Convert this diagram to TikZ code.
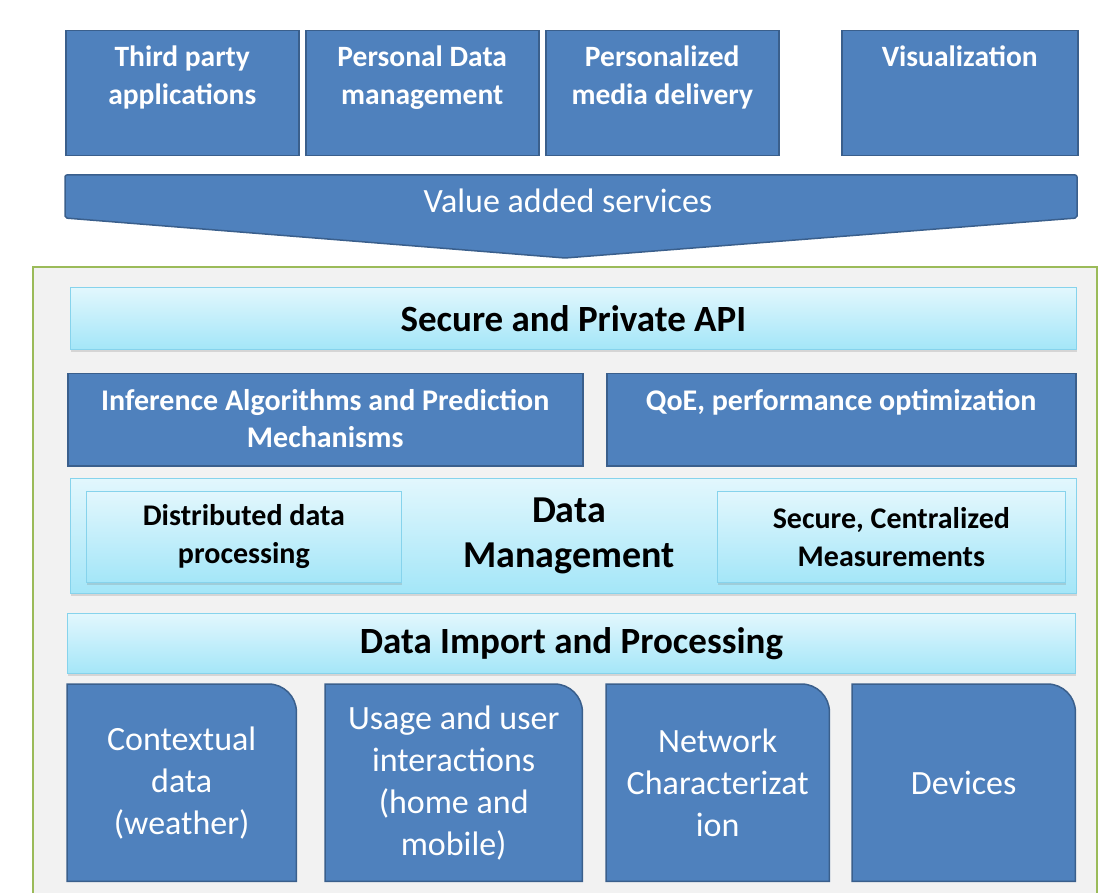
\documentclass[tikz,border=0pt]{standalone}
\usepackage{fontspec}
\setmainfont{Carlito}
\usepackage{tikz}
\usetikzlibrary{positioning,shadows,backgrounds}
\definecolor{boxblue}{HTML}{4F81BD}
\definecolor{boxedge}{HTML}{3A5F8C}
\definecolor{frameg}{HTML}{9BBB59}
\definecolor{framefill}{HTML}{F2F2F2}
\definecolor{cyantop}{HTML}{E2F7FD}
\definecolor{cyanbot}{HTML}{A4E6F8}
\definecolor{cyanedge}{HTML}{86D3EC}

\begin{document}
\begin{tikzpicture}[x=1pt, y=-1pt, node distance=5.5pt,
  bluebox/.style={draw=boxedge, line width=1.5pt, fill=boxblue, anchor=north west, inner sep=0pt},
  cyanbar/.style={draw=cyanedge, line width=0.8pt, top color=cyantop, bottom color=cyanbot,
    anchor=north west, inner sep=0pt, drop shadow={opacity=0.25, shadow xshift=1pt, shadow yshift=-3pt}},
  toptext/.style={text=white, inner sep=0pt, align=center, font=\bfseries\fontsize{29.5}{38}\selectfont},
  midtext/.style={text=white, inner sep=0pt, align=center, font=\bfseries\fontsize{30}{37}\selectfont},
  bartext/.style={text=black, inner sep=0pt, align=center, font=\bfseries\fontsize{37}{40}\selectfont},
  subtext/.style={text=black, inner sep=0pt, align=center, font=\bfseries\fontsize{30}{38}\selectfont},
  lowbox/.style={anchor=north west, inner sep=0pt, minimum height=197, text=white, align=center,
    font=\fontsize{34}{42}\selectfont}]
\useasboundingbox (0,0) rectangle (1104,893);

% outer frame
\begin{scope}[on background layer]
  \fill[framefill] (33,267) rectangle (1097,900);
  \draw[frameg, line width=2.5pt] (33,900) -- (33,267) -- (1097,267) -- (1097,900);
\end{scope}

% applications on top
\node[bluebox, minimum width=233, minimum height=125] (tpa) at (65,30) {};
\node[bluebox, minimum width=233, minimum height=125, right=of tpa] (pdm) {};
\node[bluebox, minimum width=233, minimum height=125, right=of pdm] (pmd) {};
\node[bluebox, minimum width=236, minimum height=125] (vis) at (841,30) {};
\node[toptext, below=16pt of tpa.north] (tpat) {Third party\\applications};
\node[toptext, below=16pt of pdm.north] (pdmt) {Personal Data\\management};
\node[toptext, below=16pt of pmd.north] (pmdt) {Personalized\\media delivery};
\node[toptext, below=16pt of vis.north] (vist) {Visualization};

% value added services banner
\draw[boxedge, line width=1.5pt, fill=boxblue, rounded corners=2pt]
  (65,218) -- (65,175) -- (1077,175) -- (1077,218) -- (565,258) -- cycle;
\node[text=white, font=\fontsize{34}{40}\selectfont] (vas) at (568,201) {Value added services};

% platform layers
\node[cyanbar, minimum width=1006, minimum height=62] (api) at (70,287) {};
\node[bartext] (apit) at (api.center) {Secure and Private API};

\node[bluebox, minimum width=515, minimum height=92] (inf) at (67,373) {};
\node[bluebox, minimum width=469, minimum height=92] (qoe) at (606,373) {};
\node[midtext, below=16pt of inf.north] (inft) {Inference Algorithms and Prediction\\Mechanisms};
\node[midtext, below=16pt of qoe.north] (qoet) {QoE, performance optimization};

\node[cyanbar, minimum width=1006, minimum height=115] (dm) at (70,478) {};
\node[cyanbar, minimum width=315, minimum height=91] (dist) at (86,491) {};
\node[cyanbar, minimum width=348, minimum height=91] (scm) at (717,491) {};
\node[subtext] (distt) at (dist.center) {Distributed data\\processing};
\node[subtext] (scmt) at (scm.center) {Secure, Centralized\\Measurements};
\node[text=black, inner sep=0pt, align=center, font=\bfseries\fontsize{38}{45}\selectfont]
  (dmt) at (569,536) {Data\\Management};

\node[cyanbar, minimum width=1008, minimum height=60] (dip) at (67,613) {};
\node[bartext] (dipt) at (dip.center) {Data Import and Processing};

% data sources
\node[lowbox, minimum width=229] (ctx) at (67,684) {Contextual\\data\\(weather)};
\node[lowbox, minimum width=257] (usg) at (325,684) {Usage and user\\interactions\\(home and\\mobile)};
\node[lowbox, minimum width=223] (net) at (606,684) {Network\\Characterizat\\ion};
\node[lowbox, minimum width=223] (dev) at (852,684) {Devices};
\begin{scope}[on background layer]
  \foreach \src in {ctx,usg,net,dev}
    \draw[boxedge, line width=1.5pt, fill=boxblue] (\src.south west) -- (\src.north west)
      -- ([xshift=-28pt]\src.north east) arc[start angle=90, end angle=0, radius=28pt]
      -- (\src.south east) -- cycle;
\end{scope}
\end{tikzpicture}
\end{document}
